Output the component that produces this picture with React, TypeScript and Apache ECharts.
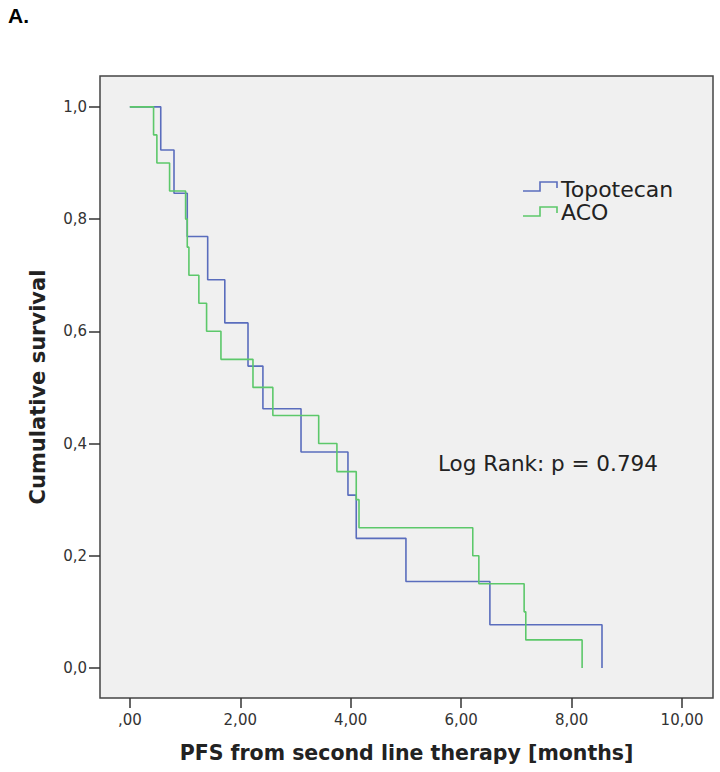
import React, { useEffect, useRef } from "react";
import * as echarts from "echarts";

const seriesNames = ["Topotecan", "ACO"];
const topoTimes = [0, 0.56, 0.8, 1.04, 1.41, 1.72, 2.14, 2.41, 3.1, 3.95, 4.1, 5.0, 6.52, 8.55];
const topoSurv = [1, 0.923, 0.846, 0.769, 0.692, 0.615, 0.538, 0.462, 0.385, 0.308, 0.231, 0.154, 0.077, 0];
const acoTimes = [0, 0.43, 0.49, 0.72, 1.01, 1.04, 1.07, 1.25, 1.39, 1.65, 2.23, 2.59, 3.42, 3.75, 4.1, 4.15, 6.21, 6.32, 7.14, 7.17, 8.19];
const acoSurv = [1, 0.95, 0.9, 0.85, 0.8, 0.75, 0.7, 0.65, 0.6, 0.55, 0.5, 0.45, 0.4, 0.35, 0.3, 0.25, 0.2, 0.15, 0.1, 0.05, 0];
const xTicks = [0, 2, 4, 6, 8, 10];
const yTicks = [0, 0.2, 0.4, 0.6, 0.8, 1.0];
const panelLabel = "A.";
const xTitle = "PFS from second line therapy [months]";
const yTitle = "Cumulative survival";
const annotation = "Log Rank: p = 0.794";

const BLUE = "#5a6dbd";
const GREEN = "#5cc86a";
const FONT = "DejaVu Sans";

export default function App() {
  const ref = useRef<HTMLDivElement>(null);
  useEffect(() => {
    document.body.style.margin = "0";
    const chart = echarts.init(ref.current!, null, { renderer: "svg" });
    const fmtX = (v: number) => (v === 0 ? ",00" : v.toFixed(2).replace(".", ","));
    const fmtY = (v: number) => v.toFixed(1).replace(".", ",");
    chart.setOption({
      animation: false,
      backgroundColor: "#ffffff",
      grid: {
        left: 100,
        top: 76,
        width: 613,
        height: 622,
        show: true,
        backgroundColor: "#f0f0f0",
        borderColor: "#444444",
        borderWidth: 1.5,
      },
      xAxis: {
        type: "value",
        min: -0.54,
        max: 10.56,
        splitLine: { show: false },
        axisLine: { show: false, onZero: false },
        axisTick: { show: true, length: 10, lineStyle: { color: "#333", width: 1.5 }, customValues: xTicks },
        axisLabel: {
          customValues: xTicks,
          formatter: fmtX,
          margin: 14,
          fontFamily: FONT,
          fontSize: 15,
          color: "#333",
        },
        name: xTitle,
        nameLocation: "middle",
        nameGap: 55,
        nameTextStyle: { fontFamily: FONT, fontSize: 20.5, fontWeight: "bold", color: "#222", verticalAlign: "middle" },
      },
      yAxis: {
        type: "value",
        min: -0.0535,
        max: 1.055,
        splitLine: { show: false },
        axisLine: { show: false, onZero: false },
        axisTick: { show: true, length: 11, lineStyle: { color: "#333", width: 1.5 }, customValues: yTicks },
        axisLabel: {
          customValues: yTicks,
          formatter: fmtY,
          margin: 13,
          fontFamily: FONT,
          fontSize: 15,
          color: "#333",
        },
        name: yTitle,
        nameLocation: "middle",
        nameGap: 62,
        nameRotate: 90,
        nameTextStyle: { fontFamily: FONT, fontSize: 21, fontWeight: "bold", color: "#222", verticalAlign: "middle" },
      },
      series: [
        {
          name: seriesNames[0],
          type: "line",
          step: "end",
          showSymbol: false,
          symbol: "none",
          lineStyle: { color: BLUE, width: 1.6 },
          data: topoTimes.map((t, i) => [t, topoSurv[i]]),
        },
        {
          name: seriesNames[1],
          type: "line",
          step: "end",
          showSymbol: false,
          symbol: "none",
          lineStyle: { color: GREEN, width: 1.6 },
          data: acoTimes.map((t, i) => [t, acoSurv[i]]),
        },
      ],
      graphic: [
        {
          type: "text",
          left: 8,
          top: 5,
          style: { text: panelLabel, fontFamily: "Liberation Sans", fontWeight: "bold", fontSize: 21, fill: "#000" },
        },
        {
          type: "polyline",
          shape: { points: [[523, 191], [540, 191], [540, 182], [557, 182], [557, 188]] },
          style: { stroke: BLUE, lineWidth: 1.6, fill: null },
        },
        {
          type: "polyline",
          shape: { points: [[523, 216], [540, 216], [540, 207], [557, 207], [557, 213]] },
          style: { stroke: GREEN, lineWidth: 1.6, fill: null },
        },
        {
          type: "text",
          x: 561,
          y: 189,
          style: { text: seriesNames[0], fontFamily: FONT, fontSize: 22, fill: "#222", verticalAlign: "middle" },
        },
        {
          type: "text",
          x: 561,
          y: 212,
          style: { text: seriesNames[1], fontFamily: FONT, fontSize: 22, fill: "#222", verticalAlign: "middle" },
        },
        {
          type: "text",
          x: 438,
          y: 463,
          style: { text: annotation, fontFamily: FONT, fontSize: 21.5, fill: "#222", verticalAlign: "middle" },
        },
      ],
    });
    return () => chart.dispose();
  }, []);
  return <div ref={ref} style={{ width: 720, height: 772 }} />;
}
